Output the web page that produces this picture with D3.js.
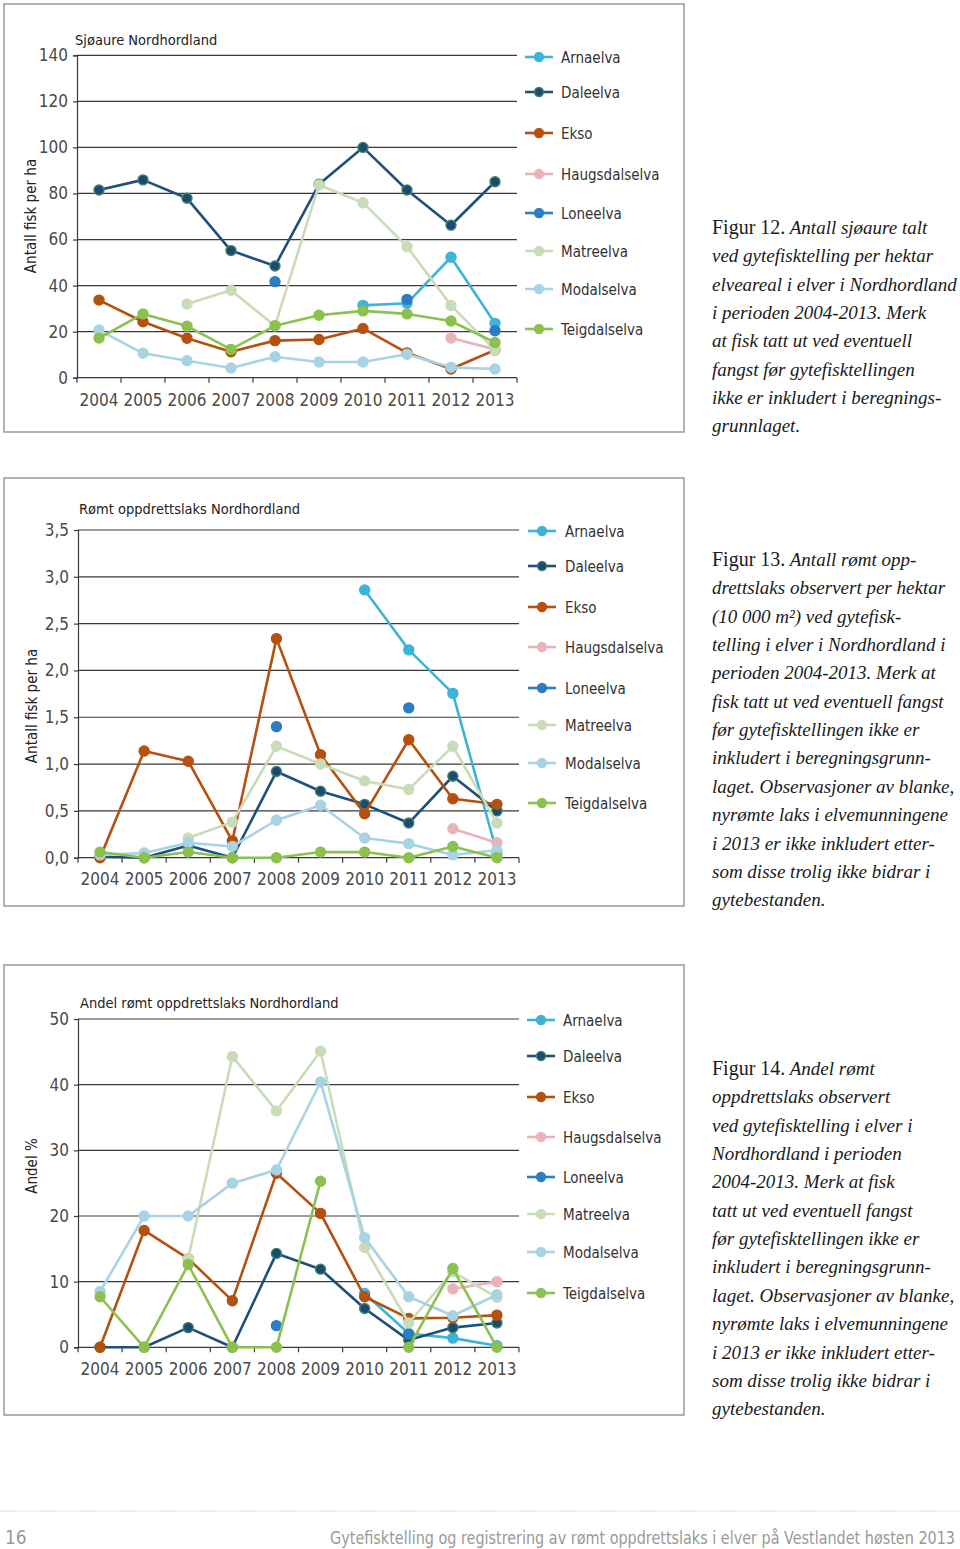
<!DOCTYPE html>
<html>
<head>
<meta charset="utf-8">
<script src="https://cdn.jsdelivr.net/npm/d3@7"></script>
<style>
  html, body { margin: 0; padding: 0; background: #fff; }
  svg { display: block; }
  .sans { font-family: "DejaVu Sans Condensed", "DejaVu Sans", sans-serif; }
  .serif { font-family: "Liberation Serif", "DejaVu Serif", serif; }
</style>
</head>
<body>
<svg id="page" width="960" height="1549"></svg>
<script>
// ---------- DATA ----------
const years = [2004, 2005, 2006, 2007, 2008, 2009, 2010, 2011, 2012, 2013];
const rivers = ["Arnaelva", "Daleelva", "Ekso", "Haugsdalselva", "Loneelva", "Matreelva", "Modalselva", "Teigdalselva"];

// Figure 12: sea trout per ha (rows in river order)
const sjoaure = [
  [null, null, null, null, null, null, 31.4, 32.3, 52.3, 23.6],
  [81.5, 85.9, 77.9, 55.2, 48.5, 84, 100, 81.5, 66.2, 85.1],
  [33.7, 24.3, 17.1, 11.3, 16.1, 16.6, 21.4, 10.8, 3.8, 12],
  [null, null, null, null, null, null, null, null, 17.2, 12.3],
  [null, null, null, null, 41.7, null, null, 34, null, 20.4],
  [null, null, 32, 38, 22.5, 83.7, 76, 56.9, 31.4, 12],
  [20.7, 10.6, 7.4, 4.2, 9.1, 6.8, 6.8, 10.2, 4.5, 3.8],
  [17.2, 27.7, 22.4, 12.3, 22.6, 27.1, 29, 27.7, 24.6, 15.3]
];

// Figure 13: escaped farmed salmon per ha
const romtPerHa = [
  [null, null, null, null, null, null, 2.86, 2.22, 1.755, 0.05],
  [0.01, 0, 0.13, 0, 0.92, 0.71, 0.57, 0.37, 0.87, 0.5],
  [0, 1.14, 1.03, 0.18, 2.34, 1.10, 0.47, 1.26, 0.63, 0.57],
  [null, null, null, null, null, null, null, null, 0.31, 0.16],
  [null, null, null, null, 1.40, null, null, 1.60, null, null],
  [null, null, 0.21, 0.38, 1.19, 1.0, 0.82, 0.73, 1.19, 0.37],
  [0.03, 0.05, 0.16, 0.12, 0.40, 0.56, 0.21, 0.15, 0.03, 0.08],
  [0.06, 0, 0.06, 0, 0, 0.06, 0.06, 0, 0.12, 0]
];

// Figure 14: share (%) escaped farmed salmon
const andelRomt = [
  [null, null, null, null, null, null, 8.2, 2.1, 1.4, 0.25],
  [0, 0, 3.0, 0, 14.3, 11.9, 5.9, 1.1, 3.0, 3.7],
  [0, 17.8, 13.5, 7.1, 26.5, 20.4, 7.7, 4.4, 4.5, 4.9],
  [null, null, null, null, null, null, null, null, 8.9, 10],
  [null, null, null, null, 3.3, null, null, 2.0, null, null],
  [null, null, 13.5, 44.3, 36, 45.1, 15.2, 3.7, 11.5, 7.6],
  [8.5, 20, 20, 25, 27, 40.4, 16.7, 7.7, 4.8, 8],
  [7.7, 0, 12.6, 0, 0, 25.3, null, 0, 12, 0]
];

const titles = ["Sjøaure Nordhordland", "Rømt oppdrettslaks Nordhordland", "Andel rømt oppdrettslaks Nordhordland"];
const yTitles = ["Antall fisk per ha", "Antall fisk per ha", "Andel %"];
const yTicks1 = [0, 20, 40, 60, 80, 100, 120, 140];
const yTicks2 = [0, 0.5, 1.0, 1.5, 2.0, 2.5, 3.0, 3.5];
const yTicks3 = [0, 10, 20, 30, 40, 50];

const caption1 = [
  ["Figur 12.", " Antall sjøaure talt"],
  ["", "ved gytefisktelling per hektar"],
  ["", "elveareal i elver i Nordhordland"],
  ["", "i perioden 2004-2013. Merk"],
  ["", "at fisk tatt ut ved eventuell"],
  ["", "fangst før gytefisktellingen"],
  ["", "ikke er inkludert i beregnings-"],
  ["", "grunnlaget."]
];
const caption2 = [
  ["Figur 13.", " Antall rømt opp-"],
  ["", "drettslaks observert per hektar"],
  ["", "(10 000 m²) ved gytefisk-"],
  ["", "telling i elver i Nordhordland i"],
  ["", "perioden 2004-2013. Merk at"],
  ["", "fisk tatt ut ved eventuell fangst"],
  ["", "før gytefisktellingen ikke er"],
  ["", "inkludert i beregningsgrunn-"],
  ["", "laget. Observasjoner av blanke,"],
  ["", "nyrømte laks i elvemunningene"],
  ["", "i 2013 er ikke inkludert etter-"],
  ["", "som disse trolig ikke bidrar i"],
  ["", "gytebestanden."]
];
const caption3 = [
  ["Figur 14.", " Andel rømt"],
  ["", "oppdrettslaks observert"],
  ["", "ved gytefisktelling i elver i"],
  ["", "Nordhordland i perioden"],
  ["", "2004-2013. Merk at fisk"],
  ["", "tatt ut ved eventuell fangst"],
  ["", "før gytefisktellingen ikke er"],
  ["", "inkludert i beregningsgrunn-"],
  ["", "laget. Observasjoner av blanke,"],
  ["", "nyrømte laks i elvemunningene"],
  ["", "i 2013 er ikke inkludert etter-"],
  ["", "som disse trolig ikke bidrar i"],
  ["", "gytebestanden."]
];
const footerText = "Gytefisktelling og registrering av rømt oppdrettslaks i elver på Vestlandet høsten 2013";
const pageNumber = "16";

// ---------- STYLES ----------
const lineColors = ["#3bb4d8", "#1f4f7c", "#b5510f", "#e8b4b9", "#2c7dc1", "#c9dcb8", "#a7d3e5", "#8cc04f"];
const markerFill = ["#3bb4d8", "#1c4a74", "#b5510f", "#e8b4b9", "#2c7dc1", "#c9dcb8", "#a7d3e5", "#8cc04f"];
const markerStroke = ["#3bb4d8", "#3f8460", "#b5510f", "#e8b4b9", "#2c7dc1", "#c9dcb8", "#a7d3e5", "#8cc04f"];

// ---------- LAYOUT ----------
const layouts = [
  { data: sjoaure, ticks: yTicks1, max: 140, fmt: d => String(d),
    frame: [4, 4, 680, 428], left: 77, right: 517, top: 55.3, bottom: 377.7,
    titleX: 75, titleY: 45, yLabX: 36, yLabY: 216, xLabY: 406,
    legendX: 525, legendTextX: 561, legendYs: [57, 92, 133, 174, 213, 251, 289, 329],
    caption: caption1, capY: 234 },
  { data: romtPerHa, ticks: yTicks2, max: 3.5, fmt: d => d3.format(".1f")(d).replace(".", ","),
    frame: [4, 478, 680, 428], left: 78, right: 519, top: 530, bottom: 857.7,
    titleX: 79, titleY: 514, yLabX: 37, yLabY: 706, xLabY: 885,
    legendX: 528, legendTextX: 565, legendYs: [531, 566, 607, 647, 688, 725, 763, 803],
    caption: caption2, capY: 566 },
  { data: andelRomt, ticks: yTicks3, max: 50, fmt: d => String(d),
    frame: [4, 965, 680, 450], left: 78, right: 519, top: 1019, bottom: 1347.3,
    titleX: 80, titleY: 1008, yLabX: 37, yLabY: 1166, xLabY: 1375,
    legendX: 527, legendTextX: 563, legendYs: [1020, 1056, 1097, 1137, 1177, 1214, 1252, 1293],
    caption: caption3, capY: 1075 }
];

const svg = d3.select("#page");

layouts.forEach((L, ci) => {
  const g = svg.append("g");
  const [fx, fy, fw, fh] = L.frame;
  g.append("rect").attr("x", fx).attr("y", fy).attr("width", fw).attr("height", fh)
    .attr("fill", "none").attr("stroke", "#9a9a9a").attr("stroke-width", 1.5);

  const x = d3.scaleBand().domain(years).range([L.left, L.right]).padding(0);
  const y = d3.scaleLinear().domain([0, L.max]).range([L.bottom, L.top]);
  const cx = d => x(d) + x.bandwidth() / 2;

  // gridlines
  g.append("g").selectAll("line").data(L.ticks.filter(t => t > 0)).join("line")
    .attr("x1", L.left).attr("x2", L.right)
    .attr("y1", d => y(d)).attr("y2", d => y(d))
    .attr("stroke", "#3a3a3a").attr("stroke-width", 1.2);

  // y axis
  const yAxis = d3.axisLeft(y).tickValues(L.ticks).tickSize(4).tickPadding(5).tickFormat(L.fmt);
  const ya = g.append("g").attr("transform", `translate(${L.left},0)`).call(yAxis);
  ya.select(".domain").attr("stroke", "#3a3a3a").attr("stroke-width", 1.2);
  ya.selectAll(".tick line").attr("stroke", "#3a3a3a").attr("stroke-width", 1.2);
  ya.selectAll(".tick text").attr("class", "sans").attr("font-size", 17).attr("fill", "#4a4a4a");

  // x axis: baseline + tick marks at band boundaries
  g.append("line").attr("x1", L.left).attr("x2", L.right)
    .attr("y1", y(0)).attr("y2", y(0)).attr("stroke", "#3a3a3a").attr("stroke-width", 1.2);
  const bounds = years.map(d => x(d)).concat([x(years[years.length - 1]) + x.bandwidth()]);
  g.append("g").selectAll("line").data(bounds).join("line")
    .attr("x1", d => d).attr("x2", d => d).attr("y1", y(0)).attr("y2", y(0) + 5)
    .attr("stroke", "#3a3a3a").attr("stroke-width", 1.2);
  g.append("g").selectAll("text").data(years).join("text")
    .attr("class", "sans").attr("x", d => cx(d)).attr("y", L.xLabY)
    .attr("text-anchor", "middle").attr("font-size", 17).attr("fill", "#4a4a4a")
    .text(d => d);

  // titles
  g.append("text").attr("class", "sans").attr("x", L.titleX).attr("y", L.titleY)
    .attr("font-size", 14.5).attr("fill", "#222").text(titles[ci]);
  g.append("text").attr("class", "sans")
    .attr("transform", `translate(${L.yLabX},${L.yLabY}) rotate(-90)`)
    .attr("text-anchor", "middle").attr("font-size", 15).attr("fill", "#222").text(yTitles[ci]);

  // series
  const line = d3.line().defined(d => d.v !== null).x(d => cx(d.year)).y(d => y(d.v));
  L.data.forEach((vals, si) => {
    const pts = years.map((yr, i) => ({ year: yr, v: vals[i] }));
    g.append("path").datum(pts).attr("d", line)
      .attr("fill", "none").attr("stroke", lineColors[si]).attr("stroke-width", 2.6)
      .attr("stroke-linejoin", "round");
    g.append("g").selectAll("circle").data(pts.filter(d => d.v !== null)).join("circle")
      .attr("cx", d => cx(d.year)).attr("cy", d => y(d.v)).attr("r", 5)
      .attr("fill", markerFill[si]).attr("stroke", markerStroke[si]).attr("stroke-width", 1.4);
  });

  // legend
  const lg = g.append("g");
  rivers.forEach((name, si) => {
    const ly = L.legendYs[si];
    lg.append("line").attr("x1", L.legendX).attr("x2", L.legendX + 28)
      .attr("y1", ly).attr("y2", ly).attr("stroke", lineColors[si]).attr("stroke-width", 2.6);
    lg.append("circle").attr("cx", L.legendX + 14).attr("cy", ly).attr("r", 4.5)
      .attr("fill", markerFill[si]).attr("stroke", markerStroke[si]).attr("stroke-width", 1.3);
    lg.append("text").attr("class", "sans").attr("x", L.legendTextX).attr("y", ly + 6)
      .attr("font-size", 15).attr("fill", "#333").text(name);
  });

  // caption
  const cap = g.append("g");
  L.caption.forEach((parts, i) => {
    const t = cap.append("text").attr("class", "serif").attr("x", 712)
      .attr("y", L.capY + i * 28.35).attr("font-size", 19).attr("fill", "#1a1a1a");
    if (parts[0]) t.append("tspan").attr("font-size", 20).text(parts[0]);
    t.append("tspan").attr("font-style", "italic").text(parts[1]);
  });
});

// footer
svg.append("line").attr("x1", 0).attr("x2", 960).attr("y1", 1511).attr("y2", 1511)
  .attr("stroke", "#bbb").attr("stroke-width", 1).attr("stroke-dasharray", "1,1.5");
svg.append("text").attr("class", "sans").attr("x", 5).attr("y", 1544)
  .attr("font-size", 19).attr("fill", "#999").text(pageNumber);
svg.append("text").attr("class", "sans")
  .attr("transform", "translate(955,1544) scale(1,1.15)")
  .attr("text-anchor", "end").attr("font-size", 16).attr("fill", "#999").text(footerText);
</script>
</body>
</html>
